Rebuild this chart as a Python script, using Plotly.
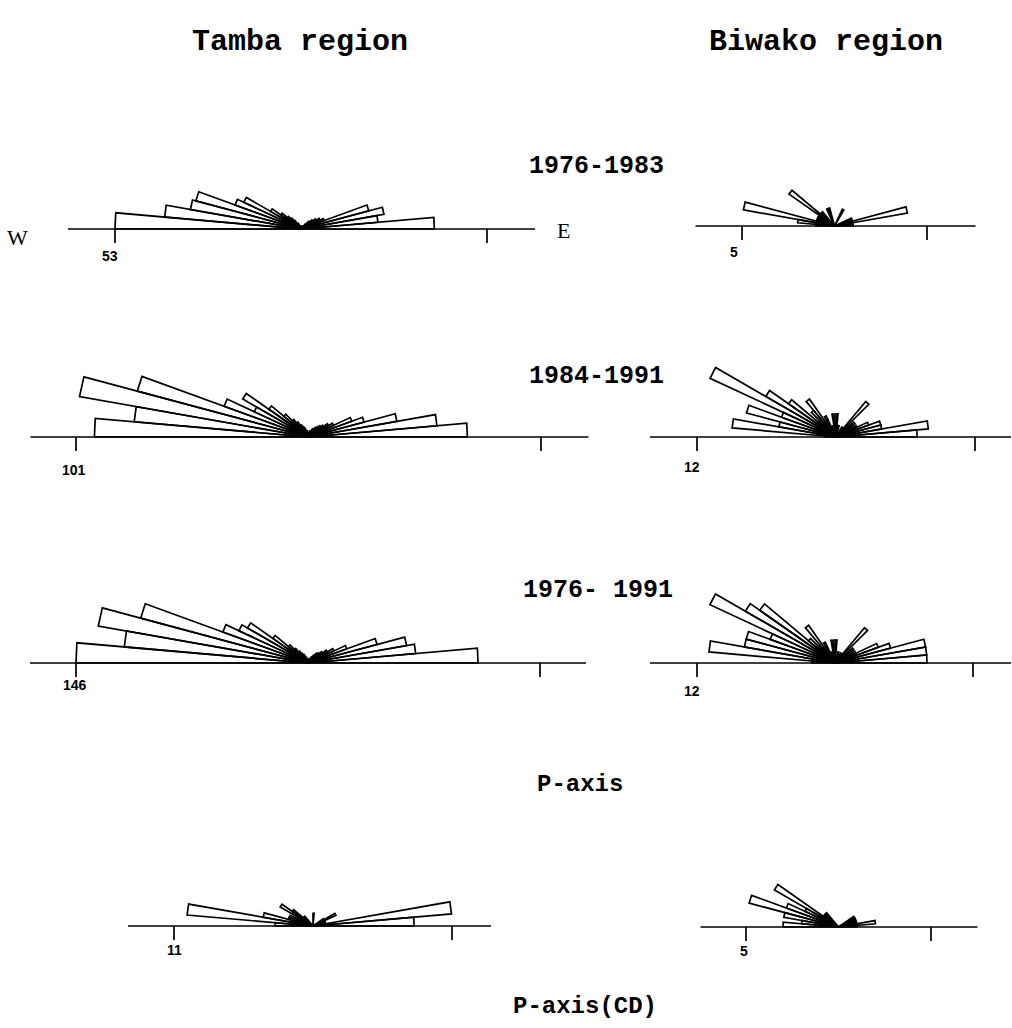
import numpy as np
import plotly.graph_objects as go

W, H = 1012, 1028
BIN = 5  # degrees per petal

# ---- data: counts per 5-degree bin, E side measured from E (0..90 deg),
#      W side measured from W (0..90 deg) ----
tamba_7683_east = [38, 22, 24, 20, 7, 6, 5, 4, 3, 2, 2, 1, 1, 1, 0, 1, 0, 1]
tamba_7683_west = [53, 39, 32, 31, 20, 18, 10, 7, 5, 4, 3, 2, 2, 1, 1, 1, 0, 1]
biwako_7683_east = [1, 1, 4, 1, 1, 0, 0, 0, 0, 0, 0, 0, 1, 0, 0, 0, 0, 0]
biwako_7683_west = [1, 2, 5, 1, 1, 1, 1, 3, 1, 1, 0, 0, 0, 1, 1, 0, 0, 0]

tamba_8491_east = [69, 56, 39, 25, 20, 12, 10, 8, 7, 6, 5, 4, 4, 3, 3, 2, 3, 2]
tamba_8491_west = [93, 76, 101, 77, 39, 26, 33, 21, 14, 10, 8, 6, 5, 4, 3, 3, 2, 2]
biwako_8491_east = [7, 8, 4, 4, 3, 2, 0, 2, 0, 4, 0, 1, 0, 0, 0, 1, 0, 2]
biwako_8491_west = [1, 9, 5, 8, 5, 12, 7, 5, 2, 3, 4, 0, 2, 0, 1, 0, 2, 0]

tamba_7691_east = [107, 68, 63, 45, 26, 18, 14, 11, 9, 8, 6, 5, 5, 4, 3, 3, 2, 2]
tamba_7691_west = [146, 116, 134, 109, 57, 48, 44, 27, 16, 12, 9, 7, 6, 5, 4, 3, 3, 2]
biwako_7691_east = [8, 8, 8, 5, 4, 2, 0, 2, 0, 4, 0, 1, 0, 0, 1, 0, 0, 2]
biwako_7691_west = [2, 11, 8, 8, 6, 12, 9, 8, 3, 2, 4, 0, 2, 0, 1, 0, 2, 0]

tamba_cd_east = [8, 11, 1, 1, 1, 2, 1, 0, 0, 0, 0, 0, 0, 0, 0, 0, 0, 1]
tamba_cd_west = [3, 10, 4, 2, 2, 1, 3, 2, 1, 1, 0, 0, 0, 0, 0, 0, 0, 0]
biwako_cd_east = [1, 2, 1, 1, 1, 1, 1, 0, 0, 0, 0, 0, 0, 0, 0, 0, 0, 0]
biwako_cd_west = [3, 2, 3, 5, 3, 2, 4, 1, 1, 1, 0, 0, 0, 0, 0, 0, 0, 0]

scale_max = [53, 5, 101, 12, 146, 12, 11, 5]
scale_labels = ["53", "5", "101", "12", "146", "12", "11", "5"]
column_titles = ["Tamba region", "Biwako region"]
period_labels = ["1976-1983", "1984-1991", "1976- 1991"]
section_labels = ["P-axis", "P-axis(CD)"]

series = [
    (tamba_7683_east, tamba_7683_west), (biwako_7683_east, biwako_7683_west),
    (tamba_8491_east, tamba_8491_west), (biwako_8491_east, biwako_8491_west),
    (tamba_7691_east, tamba_7691_west), (biwako_7691_east, biwako_7691_west),
    (tamba_cd_east, tamba_cd_west), (biwako_cd_east, biwako_cd_west),
]

# ---- layout (pixels): centre x, baseline y, radius of max tick, baseline extents, label offset ----
geom = [
    dict(cx=301, cy=229, R=186, left=233, right=234, ldy=27, ldx=-5),
    dict(cx=834.5, cy=226, R=92.5, left=139, right=141, ldy=26, ldx=-8),
    dict(cx=308.5, cy=437, R=232.5, left=278, right=280, ldy=33, ldx=-2),
    dict(cx=836, cy=437, R=139, left=186, right=175, ldy=30, ldx=-5),
    dict(cx=308, cy=663, R=232, left=278, right=278, ldy=22, ldx=-1),
    dict(cx=835, cy=663, R=138, left=185, right=176, ldy=28, ldx=-5),
    dict(cx=313, cy=926, R=139, left=185, right=178, ldy=24, ldx=0),
    dict(cx=838.5, cy=927, R=92.5, left=138, right=139, ldy=24, ldx=-2),
]

fig = go.Figure()
line_col = "black"

def petals(east, west):
    xs, ys = [], []
    for side, counts in (("E", east), ("W", west)):
        for i, c in enumerate(counts):
            if c <= 0:
                continue
            if side == "E":
                a0, a1 = i * BIN, (i + 1) * BIN
            else:
                a0, a1 = 180 - (i + 1) * BIN, 180 - i * BIN
            t0, t1 = np.radians(a0), np.radians(a1)
            xs += [0, c * np.cos(t0), c * np.cos(t1), 0, None]
            ys += [0, c * np.sin(t0), c * np.sin(t1), 0, None]
    return xs, ys

annotations = []
for k, ((east, west), g, mx, lab) in enumerate(zip(series, geom, scale_max, scale_labels)):
    n = k + 1
    xa = "x" if n == 1 else f"x{n}"
    ya = "y" if n == 1 else f"y{n}"
    s = g["R"] / mx  # px per count
    px0 = max(0, g["cx"] - g["left"] - 8)
    px1 = min(W, g["cx"] + g["right"] + 8)
    py0 = g["cy"] - 150
    py1 = g["cy"] + 55
    layout_x = dict(domain=[px0 / W, px1 / W], range=[(px0 - g["cx"]) / s, (px1 - g["cx"]) / s],
                    visible=False, fixedrange=True, anchor=ya)
    layout_y = dict(domain=[1 - py1 / H, 1 - py0 / H], range=[(g["cy"] - py1) / s, (g["cy"] - py0) / s],
                    visible=False, fixedrange=True, anchor=xa)
    fig.update_layout(**{("xaxis" if n == 1 else f"xaxis{n}"): layout_x,
                         ("yaxis" if n == 1 else f"yaxis{n}"): layout_y})

    xs, ys = petals(east, west)
    fig.add_trace(go.Scatter(x=xs, y=ys, mode="lines", fill="toself", fillcolor="white",
                             line=dict(color=line_col, width=1.7), xaxis=xa, yaxis=ya,
                             hoverinfo="skip", showlegend=False))
    # baseline
    fig.add_trace(go.Scatter(x=[-g["left"] / s, g["right"] / s], y=[0, 0], mode="lines",
                             line=dict(color=line_col, width=1.6), xaxis=xa, yaxis=ya,
                             hoverinfo="skip", showlegend=False))
    # scale ticks at +/- max
    tick = 14 / s
    fig.add_trace(go.Scatter(x=[-mx, -mx, None, mx, mx], y=[0, -tick, None, 0, -tick], mode="lines",
                             line=dict(color=line_col, width=1.7), xaxis=xa, yaxis=ya,
                             hoverinfo="skip", showlegend=False))
    annotations.append(dict(x=-mx, y=-g["ldy"] / s, xref=xa, yref=ya, text=lab, showarrow=False,
                            xshift=g["ldx"], xanchor="center", yanchor="middle",
                            font=dict(family="Liberation Sans", size=14, color="black", weight="bold")))

def ptext(txt, px, py, size, family="Liberation Mono", bold=True):
    annotations.append(dict(x=px / W, y=1 - py / H, xref="paper", yref="paper", text=txt,
                            showarrow=False, xanchor="center", yanchor="middle",
                            font=dict(family=family, size=size, color="black",
                                      weight="bold" if bold else "normal")))

ptext(column_titles[0], 300, 42, 30)
ptext(column_titles[1], 826, 42, 30)
ptext(period_labels[0], 596, 167, 25)
ptext(period_labels[1], 596, 376, 25)
ptext(period_labels[2], 598, 590, 25)
ptext(section_labels[0], 580, 784, 24)
ptext(section_labels[1], 585, 1006, 24)
ptext("W", 17, 237, 22, family="Liberation Serif", bold=False)
ptext("E", 563, 231, 22, family="Liberation Serif", bold=False)

fig.update_layout(width=W, height=H, margin=dict(l=0, r=0, t=0, b=0),
                  paper_bgcolor="white", plot_bgcolor="rgba(0,0,0,0)",
                  annotations=annotations, showlegend=False)

fig.write_html("out.html")
